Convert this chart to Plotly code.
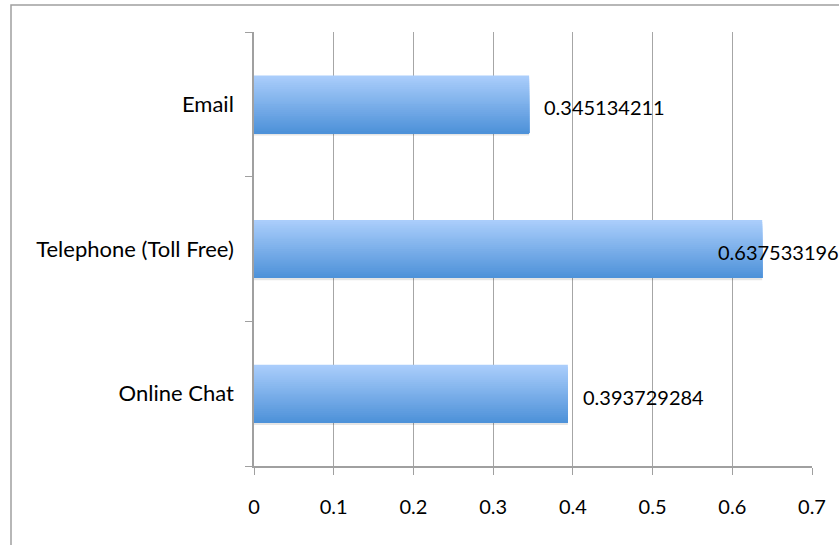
import plotly.graph_objects as go

categories = ["Online Chat", "Telephone (Toll Free)", "Email"]
values = [0.393729284, 0.637533196, 0.345134211]
value_labels = ["0.393729284", "0.637533196", "0.345134211"]
label_shift_px = [13, -46, 13]
x_tick_vals = [0, 0.1, 0.2, 0.3, 0.4, 0.5, 0.6, 0.7]
x_tick_text = ["0", "0.1", "0.2", "0.3", "0.4", "0.5", "0.6", "0.7"]

FONT = "Lato"
W, H = 839, 545
ML, MR, MT, MB = 254, 27, 32, 79

top_rgb = (170, 205, 251)
bot_rgb = (78, 146, 217)
N = 30
bar_w = 0.4

fig = go.Figure()

# soft shadow under bars
fig.add_trace(go.Bar(
    y=categories, x=values, orientation="h",
    width=0.02, offset=-bar_w / 2 - 0.016,
    marker=dict(color="rgba(0,0,0,0.10)", line=dict(width=0)),
    hoverinfo="skip", showlegend=False,
))

# vertical gradient: nested bars anchored at bar bottom, largest (lightest) first
slice_w = bar_w / N
for i in range(N):
    t = (N - 1 - i) / (N - 1)  # 1 = top colour
    c = tuple(round(b + (tp - b) * t) for b, tp in zip(bot_rgb, top_rgb))
    fig.add_trace(go.Bar(
        y=categories, x=values, orientation="h",
        width=(N - i) * slice_w, offset=-bar_w / 2,
        marker=dict(color=f"rgb{c}", line=dict(width=0)),
        hoverinfo="skip", showlegend=False,
    ))

for cat, v, lab, sh in zip(categories, values, value_labels, label_shift_px):
    fig.add_annotation(
        x=v, y=cat, text=lab, showarrow=False,
        xanchor="left", yanchor="middle", xshift=sh, yshift=-3,
        font=dict(family=FONT, size=20, color="#000000"),
    )

# outer chart frame (only left and top edges visible in the crop)
fig.add_shape(
    type="rect", xref="paper", yref="paper",
    x0=(11 - ML) / (W - ML - MR), x1=1.3,
    y0=-0.4, y1=1 + (MT - 5) / (H - MT - MB),
    line=dict(color="#A0A0A0", width=1.5), layer="below",
)

fig.update_layout(
    width=W, height=H,
    margin=dict(l=ML, r=MR, t=MT, b=MB, pad=0),
    paper_bgcolor="white", plot_bgcolor="white",
    barmode="overlay",
    font=dict(family=FONT, size=20, color="#000000"),
    showlegend=False,
)

fig.update_xaxes(
    range=[0, 0.7], tickvals=x_tick_vals, ticktext=x_tick_text,
    showgrid=True, gridcolor="#A6A6A6", gridwidth=1.3,
    showline=True, linecolor="#A0A0A0", linewidth=1.5,
    ticks="outside", ticklen=7, tickcolor="#A0A0A0", tickwidth=1.3,
    ticklabelstandoff=15, zeroline=False,
    tickfont=dict(family=FONT, size=20, color="#000000"),
)
fig.update_yaxes(
    type="category", categoryorder="array", categoryarray=categories,
    range=[-0.5, 2.5], showgrid=False,
    showline=True, linecolor="#A0A0A0", linewidth=1.5,
    ticks="outside", tickson="boundaries", ticklen=7,
    tickcolor="#A0A0A0", tickwidth=1.3,
    ticklabelstandoff=14, zeroline=False,
    tickfont=dict(family=FONT, size=22, color="#000000"),
)

fig.write_html(
    "out.html",
    config={"displayModeBar": False},
    post_script="document.body.style.margin='0';document.body.style.padding='0';",
)
